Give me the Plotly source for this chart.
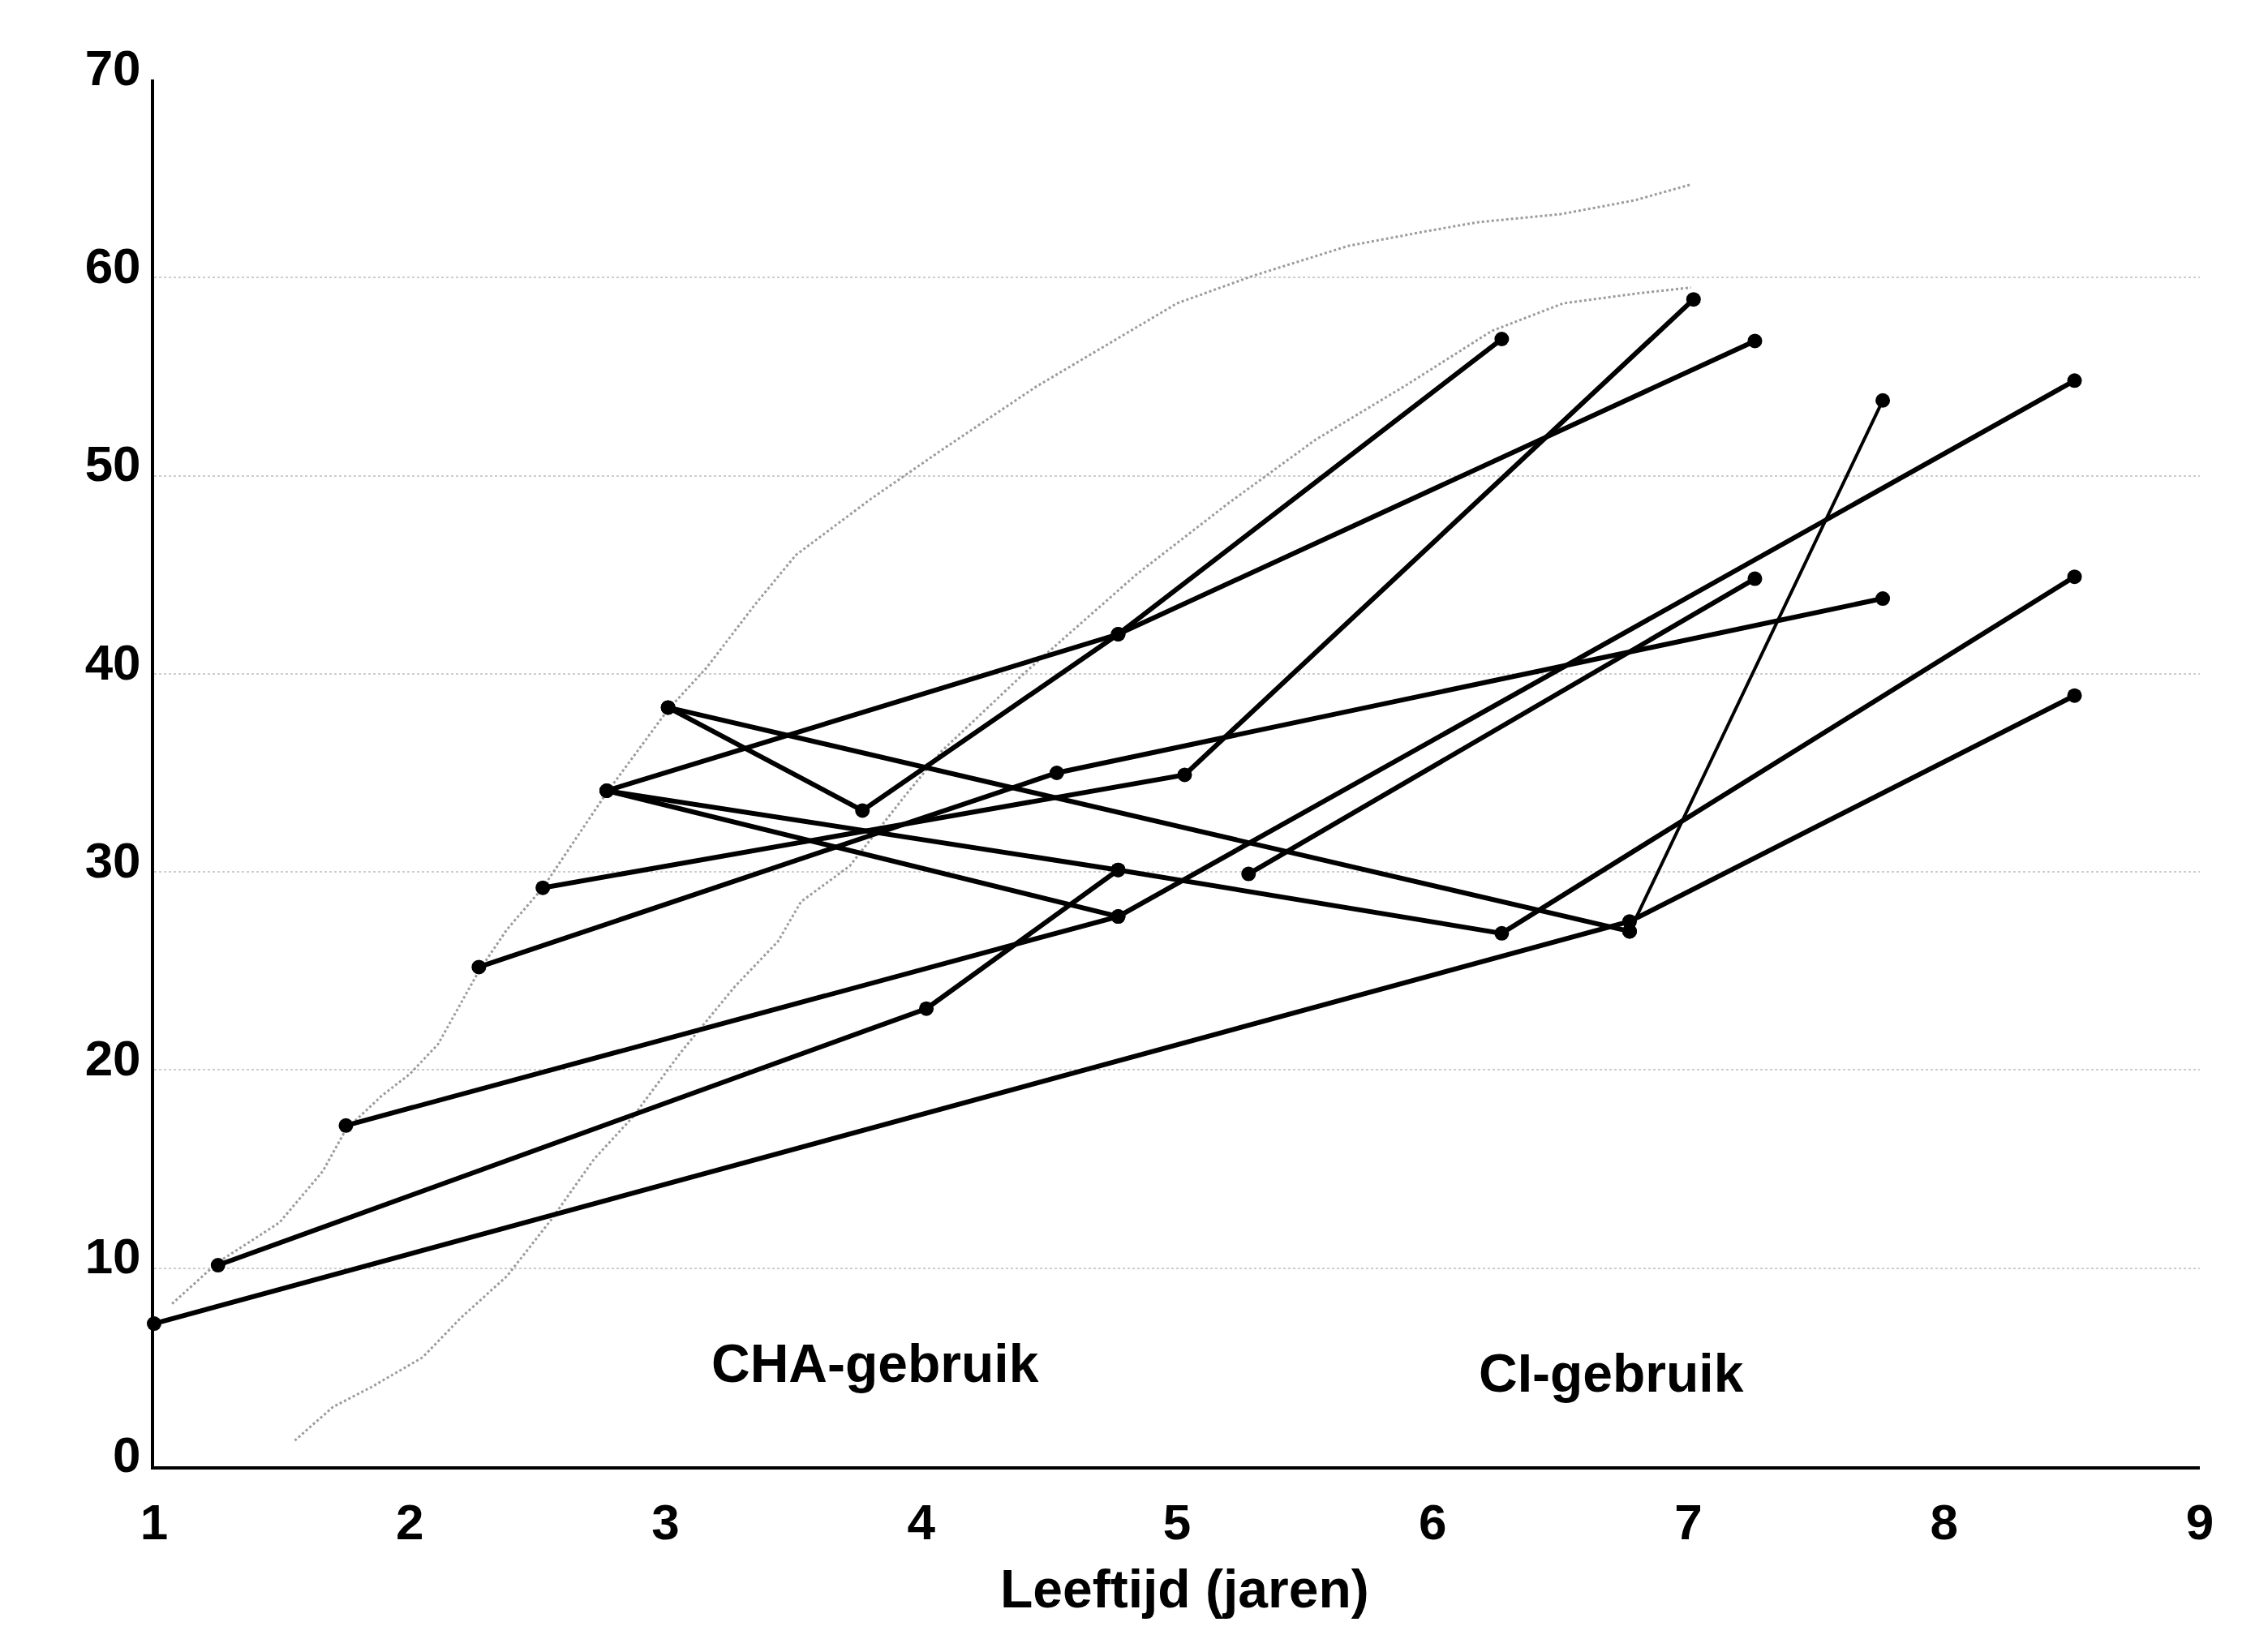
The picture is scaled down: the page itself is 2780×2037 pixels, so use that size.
import plotly.graph_objects as go

# ---- individual children: age (years) and score ----
child_a_age = [1.00, 6.77, 8.51]
child_a_score = [7.2, 27.5, 38.9]

child_b_age = [1.25, 4.02, 4.77]
child_b_score = [10.15, 23.1, 30.1]

child_c_age = [1.75, 4.77, 8.51]
child_c_score = [17.2, 27.75, 54.8]

child_d_age = [2.27, 4.53, 7.76]
child_d_score = [25.2, 35.0, 43.8]

child_e_age = [2.52, 5.03, 7.02]
child_e_score = [29.2, 34.9, 58.9]

child_f_age = [2.77, 4.77, 7.26]
child_f_score = [34.1, 42.0, 56.8]

child_g_age = [2.77, 4.77, 6.27, 8.51]
child_g_score = [34.1, 30.1, 26.9, 44.9]

child_h_age = [2.77, 4.77]
child_h_score = [34.1, 27.75]

child_i_age = [3.01, 3.77, 4.77, 6.27]
child_i_score = [38.3, 33.1, 42.0, 56.9]

child_j_age = [3.01, 6.77]
child_j_score = [38.3, 27.0]

child_j_late_age = [6.77, 7.76]
child_j_late_score = [27.0, 53.8]

child_k_age = [5.28, 7.26]
child_k_score = [29.9, 44.8]

# ---- reference (norm) curves ----
norm_upper_age = [1.07, 1.25, 1.49, 1.66, 1.75, 1.89, 2.0, 2.11, 2.27, 2.38, 2.52, 2.77,
                  3.01, 3.16, 3.35, 3.51, 3.8, 4.08, 4.45, 4.84, 5.0, 5.3, 5.67, 6.0,
                  6.18, 6.5, 6.79, 7.01]
norm_upper_score = [8.2, 10.3, 12.3, 14.9, 17.0, 18.7, 19.8, 21.3, 25.0, 27.1, 29.2, 34.0,
                    38.2, 40.3, 43.5, 46.0, 48.8, 51.3, 54.5, 57.5, 58.7, 60.1, 61.6, 62.4,
                    62.8, 63.2, 63.9, 64.7]

norm_lower_age = [1.55, 1.7, 1.85, 2.05, 2.2, 2.38, 2.55, 2.72, 2.87, 3.06, 3.27, 3.44,
                  3.53, 3.72, 3.94, 4.08, 4.4, 4.84, 5.2, 5.54, 5.9, 6.23, 6.51, 6.8, 7.01]
norm_lower_score = [1.3, 3.0, 4.0, 5.5, 7.5, 9.6, 12.4, 15.5, 17.6, 20.9, 24.2, 26.5,
                    28.5, 30.3, 33.9, 36.1, 40.0, 45.0, 48.6, 51.8, 54.6, 57.3, 58.7, 59.2, 59.5]

x_ticks = [1, 2, 3, 4, 5, 6, 7, 8, 9]
y_ticks = [0, 10, 20, 30, 40, 50, 60, 70]

group_labels = ["CHA-gebruik", "CI-gebruik"]
group_label_x = [3.82, 6.70]
group_label_y = [5.2, 4.7]
x_title = "Leeftijd (jaren)"

FONT = "Liberation Sans, Arial, sans-serif"

fig = go.Figure()

for ages, scores in [(norm_upper_age, norm_upper_score), (norm_lower_age, norm_lower_score)]:
    fig.add_trace(go.Scatter(
        x=ages, y=scores, mode="lines",
        line=dict(color="#9c9c9c", width=3, dash="dot"),
        showlegend=False, hoverinfo="skip", cliponaxis=False))

children = [
    (child_a_age, child_a_score), (child_b_age, child_b_score),
    (child_c_age, child_c_score), (child_d_age, child_d_score),
    (child_e_age, child_e_score), (child_f_age, child_f_score),
    (child_g_age, child_g_score), (child_h_age, child_h_score),
    (child_i_age, child_i_score), (child_j_age, child_j_score),
    (child_k_age, child_k_score),
]
for ages, scores in children:
    fig.add_trace(go.Scatter(
        x=ages, y=scores, mode="lines+markers",
        line=dict(color="black", width=6),
        marker=dict(color="black", size=18),
        showlegend=False, cliponaxis=False))

fig.add_trace(go.Scatter(
    x=child_j_late_age, y=child_j_late_score, mode="lines+markers",
    line=dict(color="black", width=4),
    marker=dict(color="black", size=18),
    showlegend=False, cliponaxis=False))

for txt, gx, gy in zip(group_labels, group_label_x, group_label_y):
    fig.add_annotation(x=gx, y=gy, xref="x", yref="y", text=txt, showarrow=False,
                       font=dict(family=FONT, size=66, color="black", weight="bold"))

fig.add_annotation(x=5.03, y=-0.0883, xref="x", yref="paper", text=x_title,
                   showarrow=False, yanchor="middle",
                   font=dict(family=FONT, size=66, color="black", weight="bold"))

fig.update_layout(
    width=2780, height=2037, autosize=False,
    margin=dict(l=190, r=68, t=98, b=229),
    paper_bgcolor="white", plot_bgcolor="white",
    font=dict(family=FONT, color="black"),
    xaxis=dict(range=[1, 9], tickvals=x_ticks, ticktext=[str(v) for v in x_ticks],
               showgrid=False, zeroline=False, showline=True, linecolor="black",
               linewidth=4, ticks="", ticklen=0, ticklabelstandoff=12,
               tickfont=dict(family=FONT, size=62, color="black", weight="bold")),
    yaxis=dict(range=[0, 70], tickvals=y_ticks, ticktext=[str(v) for v in y_ticks],
               showgrid=True, gridcolor="#cdcdcd", griddash="dot", gridwidth=2,
               zeroline=False, showline=True, linecolor="black", linewidth=4,
               ticks="", ticklen=0, ticklabelstandoff=0, ticklabelshift=-15,
               tickfont=dict(family=FONT, size=62, color="black", weight="bold")),
)

fig.write_html("out.html")
